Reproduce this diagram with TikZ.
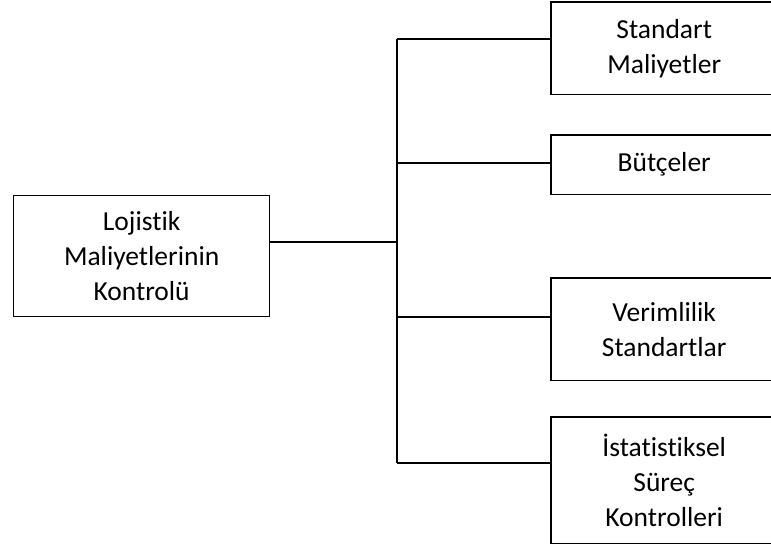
\documentclass[tikz,border=0pt]{standalone}
\usepackage{fontspec}
\setmainfont[Ligatures=NoCommon]{Carlito}
\begin{document}
\begin{tikzpicture}[x=1pt,y=1pt,
  label text/.style={rectangle, anchor=north west, align=center, inner sep=0pt,
    font=\fontsize{27.5}{35}\selectfont},
  box/.style={label text, draw=black, line width=1.3pt},
  openbox/.style={label text},
  link/.style={draw=black, line width=1.3pt}]
\useasboundingbox (0,0) rectangle (771,548);

% main box on the left
\node[box, minimum width=256pt, minimum height=121pt] (main) at (13,353)
  {Lojistik\\Maliyetlerinin\\Kontrolü};

% boxes on the right: text centred in a 226pt wide cell, frame runs past the page
\node[openbox, minimum width=226pt, minimum height=92pt]  (b1) at (551,546) {Standart\\Maliyetler};
\node[openbox, minimum width=226pt, minimum height=59pt]  (b2) at (551,413) {Bütçeler};
\node[openbox, minimum width=226pt, minimum height=102pt] (b3) at (551,270) {Verimlilik\\Standartlar};
\node[openbox, minimum width=226pt, minimum height=126pt] (b4) at (551,131) {İstatistiksel\\Süreç\\Kontrolleri};
\foreach \b in {b1,b2,b3,b4}
  \draw[link] (\b.north west) rectangle ([xshift=60pt]\b.south east);

% bus points
\coordinate (hub) at (397,306);
\coordinate (t1) at (397,509);
\coordinate (t2) at (397,385);
\coordinate (t3) at (397,231);
\coordinate (t4) at (397,85);

\draw[link] (main.east |- hub) -- (hub);
\draw[link] (t1) -- (t4);
\draw[link] (t1) -- (b1.west |- t1);
\draw[link] (t2) -- (b2.west |- t2);
\draw[link] (t3) -- (b3.west |- t3);
\draw[link] (t4) -- (b4.west |- t4);
\end{tikzpicture}
\end{document}
